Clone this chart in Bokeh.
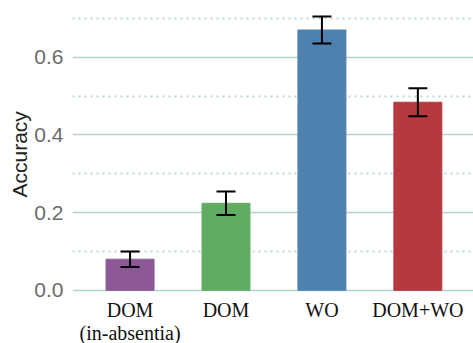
from bokeh.plotting import figure
from bokeh.models import ColumnDataSource, Range1d, FixedTicker, Whisker, TeeHead, LabelSet, Title
from bokeh.embed import file_html
from bokeh.resources import INLINE

categories = ["DOM", "DOM", "WO", "DOM+WO"]
categories_line2 = ["(in-absentia)", "", "", ""]
accuracy = [0.080, 0.224, 0.670, 0.484]
err = [0.020, 0.030, 0.035, 0.036]
colors = ["#8C5896", "#61AC63", "#4E81B0", "#B6393F"]
y_ticks = [0.0, 0.2, 0.4, 0.6]
y_minor = [0.1, 0.3, 0.5, 0.7]

xs = list(range(len(categories)))
src = ColumnDataSource(dict(
    x=xs, top=accuracy, color=colors, base=[0] * len(xs),
    label=categories, label2=categories_line2,
    upper=[a + e for a, e in zip(accuracy, err)],
    lower=[a - e for a, e in zip(accuracy, err)],
))

p = figure(width=473, height=343, output_backend="svg", toolbar_location=None,
           x_range=Range1d(-0.6, 3.58), y_range=Range1d(-0.137, 0.746),
           x_axis_location=None,
           min_border_left=72, min_border_right=0, min_border_top=0, min_border_bottom=0)
p.outline_line_color = None
p.background_fill_color = "white"
p.border_fill_color = "white"

p.vbar(x="x", top="top", bottom="base", width=0.5, color="color", source=src)
w = Whisker(base="x", upper="upper", lower="lower", source=src,
            line_color="black", line_width=2, level="overlay",
            upper_head=TeeHead(size=19, line_color="black", line_width=2),
            lower_head=TeeHead(size=19, line_color="black", line_width=2))
p.add_layout(w)

# category labels under the bars (two lines, each centred)
common = dict(x="x", y="base", source=src, text_align="center", text_baseline="top",
              text_font="Liberation Serif", text_font_size="20px",
              text_color="#111111", level="overlay")
p.add_layout(LabelSet(text="label", y_offset=-9, **common))
p.add_layout(LabelSet(text="label2", y_offset=-32, **common))

# y axis
p.yaxis.ticker = FixedTicker(ticks=y_ticks, minor_ticks=y_minor)
p.yaxis.major_label_overrides = {t: f"{t:.1f}" for t in y_ticks}
p.yaxis.major_label_text_font = "Liberation Sans"
p.yaxis.major_label_text_font_size = "21px"
p.yaxis.major_label_text_color = "#6b6b6b"
p.yaxis.axis_line_color = None
p.yaxis.major_tick_line_color = None
p.yaxis.minor_tick_line_color = None
p.yaxis.major_tick_out = 0
p.yaxis.minor_tick_out = 0
p.yaxis.major_label_standoff = 9

ylab = Title(text="Accuracy", align="left", offset=146, standoff=2,
             text_font="Liberation Sans", text_font_size="21px",
             text_font_style="normal", text_color="#222222")
p.add_layout(ylab, "left")

p.xgrid.grid_line_color = None
p.ygrid.grid_line_color = "#b3d3d3"
p.ygrid.grid_line_width = 1.5
p.ygrid.minor_grid_line_color = "#b8d6d6"
p.ygrid.minor_grid_line_width = 2
p.ygrid.minor_grid_line_dash = "2 4"
p.ygrid.level = "underlay"

open("out.html", "w").write(file_html(p, INLINE))
